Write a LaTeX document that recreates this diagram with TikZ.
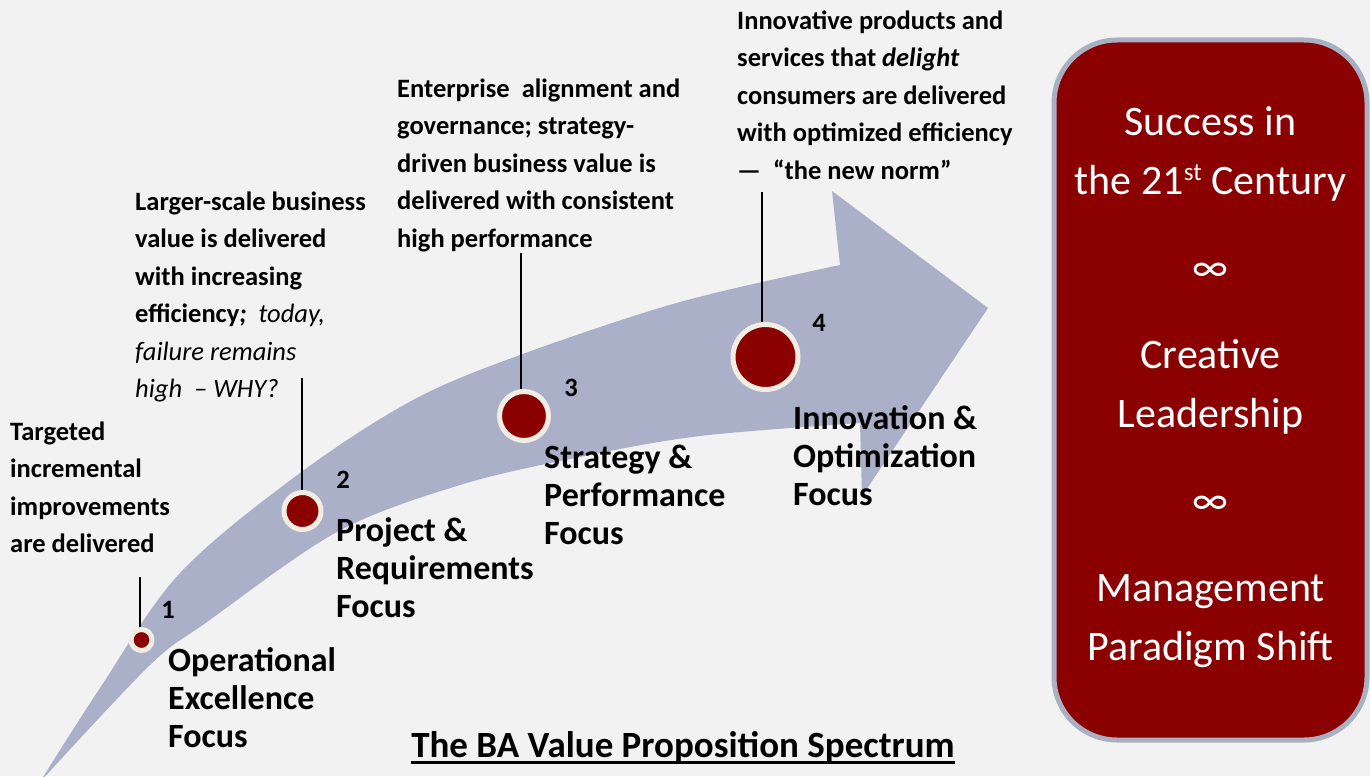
\documentclass[tikz,border=0pt]{standalone}
\usepackage{fontspec}
\setmainfont{Carlito}
\usepackage{xcolor}
\definecolor{bgGray}{RGB}{242,242,242}
\definecolor{bandBlue}{RGB}{170,176,200}
\definecolor{darkRed}{RGB}{139,0,0}
\definecolor{ringCream}{RGB}{240,237,226}
\definecolor{boxGray}{RGB}{169,176,194}

\begin{document}
\begin{tikzpicture}[x=1pt, y=-1pt,
	desc/.style={font=\fontsize{26.5}{37.5}\selectfont\bfseries, align=left, anchor=north west, inner sep=0},
	focus/.style={font=\fontsize{34}{38}\selectfont\bfseries, align=left, anchor=north west, inner sep=0},
	num/.style={font=\fontsize{26.5}{30}\selectfont\bfseries, inner sep=0},
	stage/.style={circle, fill=darkRed, draw=ringCream, line width=\ring, inner sep=0}]
	\def\ring{5pt}
	\def\W{1370}
	\def\H{776}

	\useasboundingbox (0,0) rectangle (\W,\H);
	\fill[bgGray]		(0,0) rectangle (\W,\H);

	% the sweeping arrow
	\fill[bandBlue]		plot[smooth, tension=0.55] coordinates {(40,782) (100,688) (180,573) (300,473) (413,400) (520,355) (680,302) (840,265)}
						-- (832,191) -- (988,308) -- (862,496) -- (860,423)
						-- plot[smooth, tension=0.55] coordinates {(860,423) (700,436) (580,457) (460,485) (337,532) (207,622) (150,665) (40,782)} -- cycle;

	\node[stage, minimum size=21]	(c1) at (141.5,640) {};
	\node[stage, minimum size=37]	(c2) at (302.5,511) {};
	\node[stage, minimum size=49]	(c3) at (524,416) {};
	\node[stage, minimum size=65]	(c4) at (765.5,357) {};

	\coordinate (t1) at (140,577);
	\coordinate (t2) at (301.5,378);
	\coordinate (t3) at (520.5,253);
	\coordinate (t4) at (761.5,192);
	\foreach \i in {1,...,4}
		\draw[line width=2]	(t\i) -- (t\i |- c\i.north);

	\node[num] (n1) at (168,610) {1};
	\node[num] (n2) at (343,480) {2};
	\node[num] (n3) at (571,388) {3};
	\node[num] (n4) at (819,323) {4};

	\node[focus] (f1) at (168,647) {Operational\\Excellence\\Focus};
	\node[focus] (f2) at (336,517) {Project \&\\Requirements\\Focus};
	\node[focus] (f3) at (544,445) {Strategy \&\\Performance\\Focus};
	\node[focus] (f4) at (793,405) {Innovation \&\\Optimization\\Focus};

	\node[desc] (d1) at (10,421.5) {Targeted\\incremental\\improvements\\are delivered};
	\node[desc] (d2) at (135,191.5) {Larger-scale business\\value is delivered\\with increasing\\efficiency\textit{;}~ {\mdseries\itshape today,}\\{\mdseries\itshape failure remains}\\{\mdseries\itshape high~ – WHY?}};
	\node[desc] (d3) at (397,78.5) {Enterprise~ alignment and\\governance; strategy-\\driven business value is\\delivered with consistent\\high performance};
	\node[desc] (d4) at (737,10.5) {Innovative products and\\services that \textit{delight}\\consumers are delivered\\with optimized efficiency\\—~ “the new norm”};

	\node[font=\fontsize{37}{40}\selectfont\bfseries, anchor=base, inner sep=0] (title) at (683,757) {The BA Value Proposition Spectrum};
	\draw[line width=3.5]	([yshift=-5.5pt]title.base west) -- ([yshift=-5.5pt]title.base east);

	\node[draw=boxGray, fill=darkRed, line width=5, rounded corners=63, minimum width=313, minimum height=700] (goal) at (1210.5,390) {};
	\node[text=white, align=center, font=\fontsize{42}{59}\selectfont] (goaltext) at ([yshift=3pt]goal.center)
		{Success in\\the 21{\fontsize{25}{25}\selectfont\raisebox{14pt}{st}} Century\\[28pt]∞\\[28pt]Creative\\Leadership\\[28pt]∞\\[28pt]Management\\Paradigm Shift};
\end{tikzpicture}
\end{document}
